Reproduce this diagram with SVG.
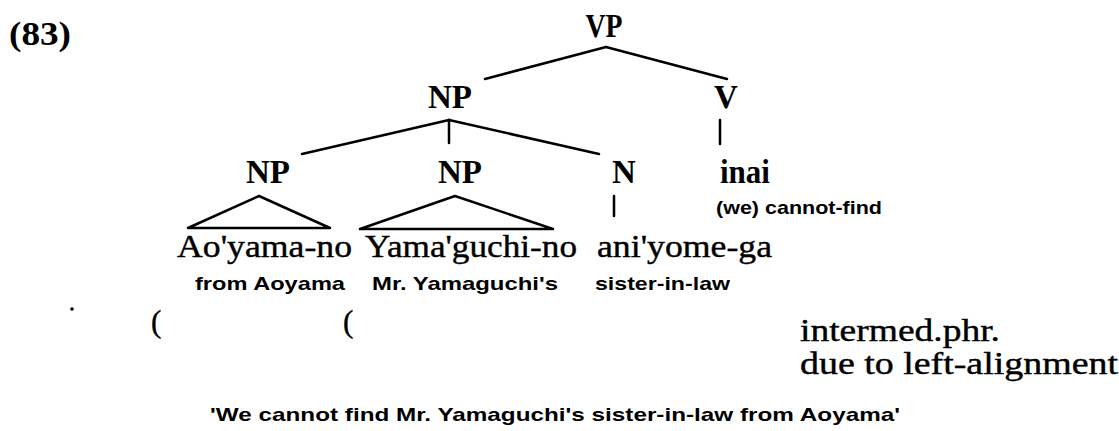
<svg xmlns="http://www.w3.org/2000/svg" width="1119" height="431" viewBox="0 0 1119 431">
<style>
  .cat { font-family: "Liberation Serif", "Times New Roman", serif; font-weight: bold; font-size: 33px; fill: #000; }
  .word { font-family: "Liberation Serif", "Times New Roman", serif; font-size: 31px; fill: #000; stroke: #000; stroke-width: 0.4; }
  .gloss { font-family: "Liberation Sans", Arial, sans-serif; font-weight: bold; font-size: 19px; fill: #000; }
  .edge { stroke: #000; stroke-width: 2.5; fill: none; stroke-linecap: round; stroke-linejoin: round; }
</style>
<rect width="1119" height="431" fill="#fff"/>
<text id="label-83" class="cat" x="9" y="45" font-size="36" textLength="62" lengthAdjust="spacingAndGlyphs">(83)</text>

<g id="connectors">
  <line class="edge" x1="606" y1="47" x2="485" y2="79"/>
  <line class="edge" x1="606" y1="47" x2="727" y2="79"/>
  <line class="edge" x1="449" y1="120" x2="302" y2="154"/>
  <line class="edge" x1="449" y1="120" x2="449" y2="143"/>
  <line class="edge" x1="449" y1="120" x2="599" y2="154"/>
  <line class="edge" x1="720" y1="120" x2="720" y2="144"/>
  <line class="edge" x1="614" y1="196" x2="614" y2="216"/>
  <polygon class="edge" points="259,196 188,228 330,228"/>
  <polygon class="edge" points="455,196 360,229 553,229"/>
</g>

<g id="node-vp"><text class="cat" x="604" y="37" text-anchor="middle" textLength="37" lengthAdjust="spacingAndGlyphs">VP</text></g>
<g id="node-np-top"><text class="cat" x="450" y="108" text-anchor="middle" textLength="44" lengthAdjust="spacingAndGlyphs">NP</text></g>
<g id="node-v"><text class="cat" x="726" y="108" text-anchor="middle">V</text></g>
<g id="node-np-left"><text class="cat" x="268" y="183" text-anchor="middle" textLength="44" lengthAdjust="spacingAndGlyphs">NP</text></g>
<g id="node-np-mid"><text class="cat" x="460" y="183" text-anchor="middle" textLength="44" lengthAdjust="spacingAndGlyphs">NP</text></g>
<g id="node-n"><text class="cat" x="624" y="183" text-anchor="middle">N</text></g>
<g id="node-inai">
  <text class="cat" x="720" y="183" font-size="32" textLength="50" lengthAdjust="spacingAndGlyphs">inai</text>
  <text class="gloss" x="716" y="214" textLength="166" lengthAdjust="spacingAndGlyphs">(we) cannot-find</text>
</g>
<g id="node-aoyama">
  <text class="word" x="177" y="257" textLength="175" lengthAdjust="spacingAndGlyphs">Ao'yama-no</text>
  <text class="gloss" x="195" y="290" textLength="150" lengthAdjust="spacingAndGlyphs">from Aoyama</text>
</g>
<g id="node-yamaguchi">
  <text class="word" x="365" y="257" textLength="212" lengthAdjust="spacingAndGlyphs">Yama'guchi-no</text>
  <text class="gloss" x="372" y="290" textLength="186" lengthAdjust="spacingAndGlyphs">Mr. Yamaguchi's</text>
</g>
<g id="node-aniyome">
  <text class="word" x="597" y="257" textLength="175" lengthAdjust="spacingAndGlyphs">ani'yome-ga</text>
  <text class="gloss" x="595" y="290" textLength="135" lengthAdjust="spacingAndGlyphs">sister-in-law</text>
</g>

<g id="phrasing">
  <circle cx="72" cy="309" r="1.8" fill="#000"/>
  <text class="word" x="151" y="332" font-size="35">(</text>
  <text class="word" x="343" y="332" font-size="35">(</text>
  <text class="word" x="800" y="341" font-size="29" textLength="200" lengthAdjust="spacingAndGlyphs">intermed.phr.</text>
  <text class="word" x="800" y="374" font-size="29" textLength="318" lengthAdjust="spacingAndGlyphs">due to left-alignment</text>
</g>

<text id="translation" class="gloss" x="210" y="421" textLength="690" lengthAdjust="spacingAndGlyphs">'We cannot find Mr. Yamaguchi's sister-in-law from Aoyama'</text>
</svg>
